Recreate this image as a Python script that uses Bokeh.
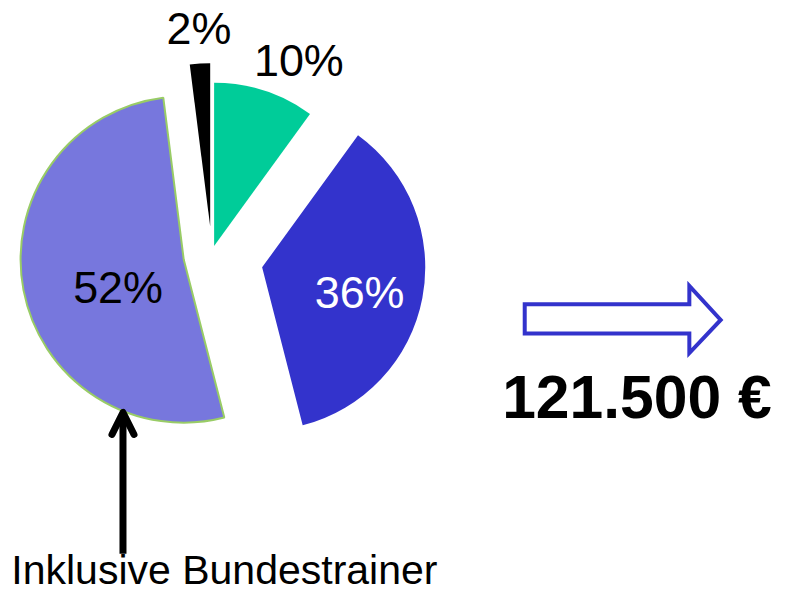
import math
from bokeh.plotting import figure
from bokeh.models import Range1d, Arrow, OpenHead
from bokeh.core.properties import value
from bokeh.embed import file_html
from bokeh.resources import INLINE

# ---- data ----
shares = [10, 36, 52, 2]                      # percent, clockwise from 12 o'clock
share_labels = ["10%", "36%", "52%", "2%"]
total_text = "121.500 €"
note_text = "Inklusive Bundestrainer"

# ---- style / layout (reference pixel units, converted below) ----
colors = ["#00CC99", "#3333CC", "#7777DD", "#000000"]
outline_colors = [None, None, "#99CC66", None]
label_colors = ["black", "white", "black", "black"]
W, H = 778, 596
REF_W, REF_H = 794, 612
sx, sy = W / REF_W, H / REF_H
s = (sx + sy) / 2
FONT = "Liberation Sans"
BASE_FIX = 0.40          # em offset of rendered alphabetic baseline

pie_center = (223, 259)
pie_radius = 167
explode_dx = [-5, 44, -36, -9]
explode_dy = [-7, 15, 7, -27]
label_pos = [(304.5, 80), (366.5, 318), (120, 313), (202.5, 47)]
label_size = 46


def PX(X):
    return X * sx


def PY(Y):
    return H - Y * sy


p = figure(width=W, height=H, output_backend="svg", toolbar_location=None,
           x_range=Range1d(0, W), y_range=Range1d(0, H),
           x_axis_location=None, y_axis_location=None,
           min_border=0, outline_line_color=None)
p.grid.visible = False
p.background_fill_color = "white"

# wedges (clockwise pie converted to bokeh's anticlockwise radians)
acc = 0.0
for i, v in enumerate(shares):
    a1 = acc / 100 * 360
    a2 = (acc + v) / 100 * 360
    acc += v
    p.wedge(x=PX(pie_center[0] + explode_dx[i]), y=PY(pie_center[1] + explode_dy[i]),
            radius=pie_radius * s,
            start_angle=math.radians(90 - a2), end_angle=math.radians(90 - a1),
            fill_color=colors[i], line_color=outline_colors[i],
            line_width=2 if outline_colors[i] else 0)


def label(X, Ybase, t, size, color="black", bold=False):
    fs = size * s
    p.text(x=[PX(X)], y=[PY(Ybase) + BASE_FIX * fs], text=[t], text_color=color,
           text_font=value(FONT), text_font_size=f"{fs:.1f}px",
           text_font_style="bold" if bold else "normal",
           text_align="center", text_baseline="alphabetic")


for i, t in enumerate(share_labels):
    label(label_pos[i][0], label_pos[i][1], t, label_size, label_colors[i])

# hollow arrow to the right
arrow_X = [535, 703, 703, 735, 703, 703, 535]
arrow_Y = [312, 312, 293, 328, 362, 342, 342]
p.patch([PX(v) for v in arrow_X], [PY(v) for v in arrow_Y],
        fill_color="white", line_color="#3333CC", line_width=4, line_join="miter")

label(649.5, 432, total_text, 62, bold=True)

# annotation arrow pointing up to the 52% slice
p.add_layout(Arrow(end=OpenHead(size=22, line_width=7, line_color="black",
                                line_cap="round", line_join="round"),
                   x_start=PX(125), y_start=PY(568), x_end=PX(125), y_end=PY(423),
                   line_width=7, line_color="black"))

label(228.5, 602, note_text, 42)

open("out.html", "w").write(file_html(p, INLINE))
